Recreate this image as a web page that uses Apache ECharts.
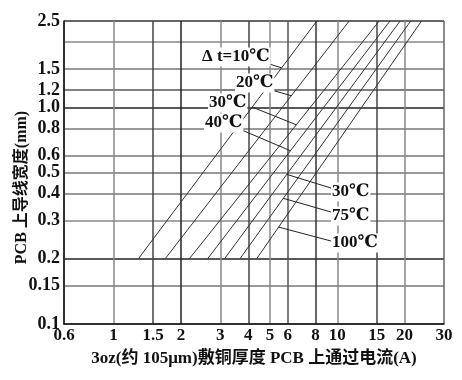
<!DOCTYPE html>
<html><head><meta charset="utf-8">
<script src="https://cdn.jsdelivr.net/npm/echarts@6/dist/echarts.min.js"></script>
<style>html,body{margin:0;padding:0;background:#fff}#c{width:462px;height:380px}</style>
</head><body><div id="c"></div>
<script>
// ---- data ----
const xTickValues = [0.6, 1, 1.5, 2, 3, 4, 5, 6, 8, 10, 15, 20, 30];
const yGridValues = [0.1, 0.15, 0.2, 0.3, 0.4, 0.5, 0.6, 0.8, 1.0, 1.2, 1.5, 2.0, 2.5];
const yLabelValues = [0.1, 0.15, 0.2, 0.3, 0.4, 0.5, 0.6, 0.8, 1.0, 1.2, 1.5, 2.5];
const traceWidths = [0.2, 2.5];                                   // mm, start / end of every line
const currentAtNarrow = [1.29, 1.70, 2.18, 2.63, 3.13, 3.67, 4.36]; // A at 0.2 mm
const currentAtWide = [8.1, 11.3, 15.4, 17.2, 19.1, 21.3, 23.8];    // A at 2.5 mm
const riseLabels = ['Δ t=10℃', '20℃', '30℃', '40℃', '30℃', '75℃', '100℃'];
const leaderWidth = [1.52, 1.13, 0.83, 0.63, 0.49, 0.38, 0.28];      // width where each leader touches its line

// ---- layout (pixels) ----
const labelPos = [[201, 57], [235, 83], [208, 103], [204, 123], [331, 192], [331, 216], [331, 243]];
const leaderFrom = [[266, 63], [268, 89], [252, 107], [237, 128], [331, 188], [331, 212], [331, 241]];

const serif = '"Liberation Serif","DejaVu Serif","Noto Sans CJK SC",serif';
const chart = echarts.init(document.getElementById('c'), null, {renderer: 'canvas'});

const xGridColors = ['#777', '#888', '#444', '#222', '#888', '#444', '#888', '#555', '#333', '#888', '#444', '#888', '#666'];
const yGridColors = ['#777', '#777', '#222', '#888', '#777', '#777', '#777', '#777', '#222', '#555', '#777', '#888', '#333'];

const series = currentAtNarrow.map((c0, i) => ({
  type: 'line',
  name: riseLabels[i],
  data: [[c0, traceWidths[0]], [currentAtWide[i], traceWidths[1]]],
  symbol: 'none',
  lineStyle: {color: '#333', width: 1},
  silent: true,
  animation: false
}));

chart.setOption({
  animation: false,
  grid: {left: 64, right: 18, top: 21, bottom: 56, containLabel: false, outerBoundsMode: 'none'},
  xAxis: {
    type: 'log', logBase: 10, min: 0.6, max: 30,
    axisLine: {show: true, lineStyle: {color: '#111', width: 1.5}},
    axisTick: {show: false, customValues: xTickValues},
    axisLabel: {customValues: xTickValues, formatter: v => String(v), margin: 3,
      fontFamily: serif, fontWeight: 'bold', fontSize: 17, color: '#111'},
    splitLine: {show: true, lineStyle: {color: xGridColors, width: 1.5}},
    minorTick: {show: false}, minorSplitLine: {show: false},
    name: '3oz(约 105μm)敷铜厚度 PCB 上通过电流(A)',
    nameLocation: 'middle', nameGap: 26,
    nameTextStyle: {fontFamily: serif, fontWeight: 'bold', fontSize: 17, color: '#111'}
  },
  yAxis: {
    type: 'log', logBase: 10, min: 0.1, max: 2.5,
    axisLine: {show: true, lineStyle: {color: '#111', width: 1.5}},
    axisTick: {show: false, customValues: yGridValues},
    axisLabel: {customValues: yLabelValues, formatter: v => (Math.abs(v - 1) < 1e-9 ? '1.0' : String(+v.toPrecision(6))),
      margin: 4, fontFamily: serif, fontWeight: 'bold', fontSize: 18, color: '#111'},
    splitLine: {show: true, lineStyle: {color: yGridColors, width: 1.5}},
    minorTick: {show: false}, minorSplitLine: {show: false},
    name: 'PCB 上导线宽度(mm)',
    nameLocation: 'middle', nameGap: 34, nameRotate: 90, nameMoveOverlap: false,
    nameTextStyle: {fontFamily: serif, fontWeight: 'bold', fontSize: 16, color: '#111',
      padding: [0, 30, 0, 0]}
  },
  series: series
});

// annotations: leader lines end on the data lines (via the chart's own scales)
const graphics = [];
riseLabels.forEach((txt, i) => {
  const k = Math.log(currentAtWide[i] / currentAtNarrow[i]) / Math.log(traceWidths[1] / traceWidths[0]);
  const cur = currentAtNarrow[i] * Math.pow(leaderWidth[i] / traceWidths[0], k);
  const p = chart.convertToPixel({xAxisIndex: 0, yAxisIndex: 0}, [cur, leaderWidth[i]]);
  graphics.push({type: 'line', z: 100, silent: true,
    shape: {x1: leaderFrom[i][0], y1: leaderFrom[i][1], x2: p[0], y2: p[1]},
    style: {stroke: '#222', lineWidth: 1}});
});
riseLabels.forEach((txt, i) => {
  graphics.push({type: 'text', z: 101, silent: true, x: labelPos[i][0], y: labelPos[i][1],
    style: {text: txt, font: 'bold 17px ' + serif, fill: '#111', align: 'left', verticalAlign: 'middle',
      backgroundColor: '#fff', padding: [1, 1]}});
});
chart.setOption({graphic: graphics});
</script>
</body></html>
